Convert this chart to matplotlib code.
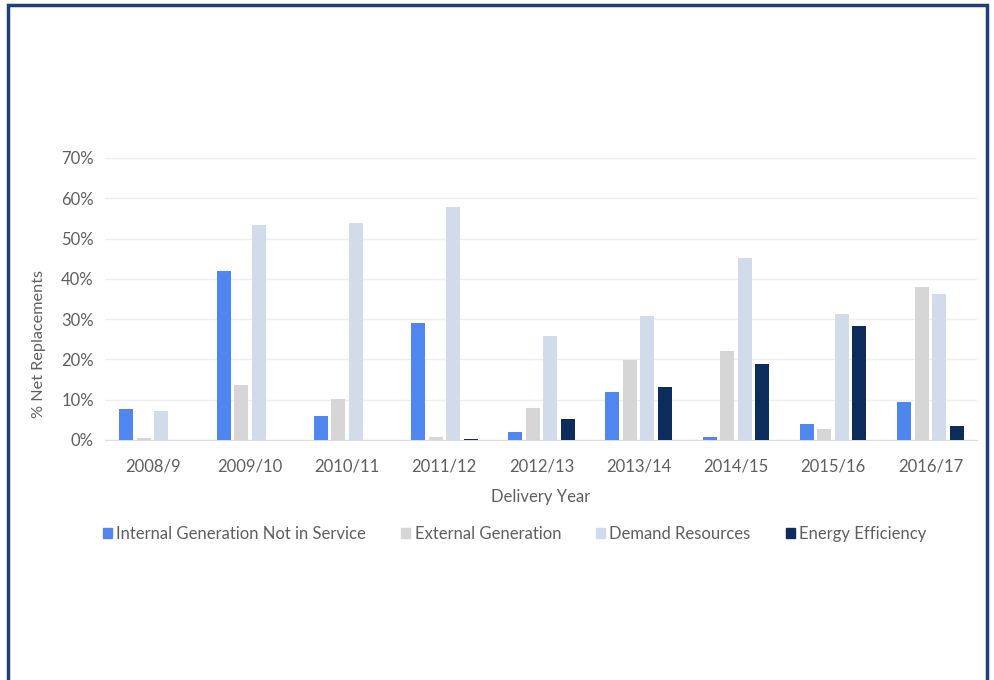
import matplotlib.pyplot as plt
import numpy as np
from matplotlib.patches import Patch, Rectangle
from matplotlib.ticker import PercentFormatter

years = ["2008/9", "2009/10", "2010/11", "2011/12", "2012/13",
         "2013/14", "2014/15", "2015/16", "2016/17"]
internal_gen = [7.7, 41.9, 5.9, 29.0, 2.1, 11.8, 0.8, 4.0, 9.4]
external_gen = [0.6, 13.6, 10.2, 0.7, 8.0, 19.8, 22.1, 2.8, 37.9]
demand_res = [7.1, 53.4, 53.8, 57.8, 25.8, 30.8, 45.3, 31.4, 36.3]
energy_eff = [0.0, 0.0, 0.0, 0.3, 5.2, 13.2, 18.9, 28.3, 3.4]

series = [
    ("Internal Generation Not in Service", internal_gen, "#4f86ef"),
    ("External Generation", external_gen, "#d6d6d6"),
    ("Demand Resources", demand_res, "#d2dbe9"),
    ("Energy Efficiency", energy_eff, "#0c2c5c"),
]

plt.rcParams["font.family"] = ["Lato", "DejaVu Sans"]
text_col = "#5f5f5f"

fig = plt.figure(figsize=(9.95, 6.8), dpi=100)
ax = fig.add_axes([105 / 995, 1 - 440 / 680, 872 / 995, 282 / 680])

x = np.arange(len(years))
pitch = 0.18
width = 0.144
for i, (name, vals, col) in enumerate(series):
    ax.bar(x + (i - 1.5) * pitch, vals, width=width, color=col, label=name, zorder=3)

ax.set_xlim(-0.49, 8.48)
ax.set_ylim(0, 70)
ax.set_yticks(np.arange(0, 71, 10))
ax.yaxis.set_major_formatter(PercentFormatter(decimals=0))
ax.set_xticks(x)
ax.set_xticklabels(years)
ax.grid(axis="y", color="#efefef", linewidth=1, zorder=0)
for s in ["top", "right", "left"]:
    ax.spines[s].set_visible(False)
ax.spines["bottom"].set_color("#dedede")
ax.tick_params(axis="both", length=0, colors=text_col, labelsize=12)
ax.tick_params(axis="y", pad=8)
ax.tick_params(axis="x", pad=13)

ax.set_xlabel("Delivery Year", color=text_col, fontsize=12, labelpad=11)
ax.set_ylabel("% Net Replacements", color=text_col, fontsize=11.7)
ax.yaxis.set_label_coords(-0.068, 0.34)

handles = [Patch(color=c) for _, _, c in series]
fig.legend(handles, [n for n, _, _ in series], loc="center left",
           bbox_to_anchor=(88 / 995, 1 - 534 / 680), ncol=4, frameon=False,
           handlelength=0.55, handleheight=0.55, handletextpad=0.25,
           columnspacing=2.1, labelcolor=text_col, fontsize=12)

# outer frame
fig.patches.append(Rectangle((8 / 995, -0.05), 979 / 995, 1 - 5 / 680 + 0.05,
                             transform=fig.transFigure, fill=False,
                             edgecolor="#1e3f7a", linewidth=2.5))

fig.savefig("out.png", dpi=100)
